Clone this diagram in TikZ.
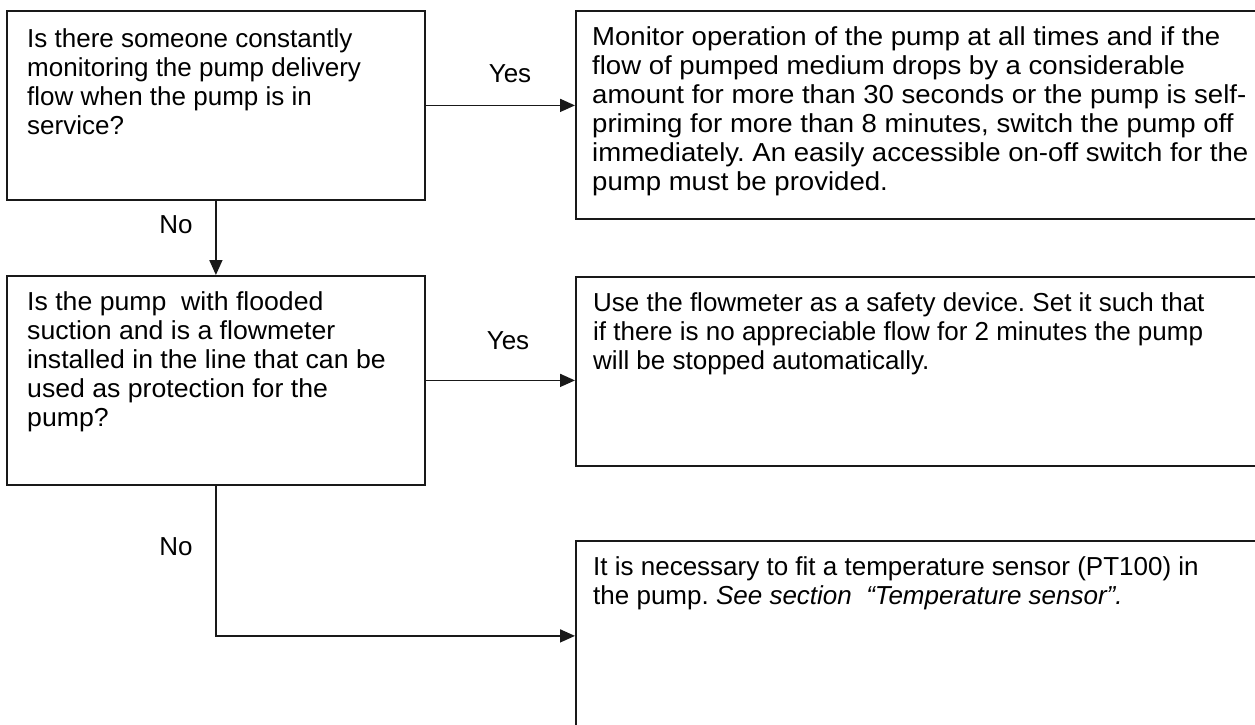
\documentclass[tikz,border=0pt]{standalone}
\usepackage{fontspec}
\setmainfont{Liberation Sans}
\newfontfamily\widefont[FakeStretch=1.06]{Liberation Sans}
\newfontfamily\semiwidefont[FakeStretch=1.025]{Liberation Sans}
\usetikzlibrary{arrows.meta,calc}
\tikzset{
  box/.style={draw=black!90, line width=1.8pt, rectangle, inner sep=0pt, anchor=north west},
  txt/.style={inner sep=0pt, anchor=base west, font=\fontsize{26pt}{29pt}\selectfont},
  lbl/.style={inner sep=0pt, font=\fontsize{26pt}{29pt}\selectfont},
  arr/.style={draw=black!90, line width=1.7pt, -{Triangle[length=15pt,width=13pt]}},
}
\newcommand{\tb}[1]{\parbox[t]{700pt}{\fontsize{26pt}{29pt}\selectfont\frenchspacing\raggedright #1}}
\begin{document}
\begin{tikzpicture}[x=1pt,y=-1pt]
\useasboundingbox (0,0) rectangle (1255,724);
\clip (0,0) rectangle (1255,724);
\fill[white] (0,0) rectangle (1255,724);

% boxes
\node[box, minimum width=418pt, minimum height=189pt] (q1) at (6,10) {};
\node[box, minimum width=690pt, minimum height=208pt] (a1) at (575,10) {};
\node[box, minimum width=418pt, minimum height=209pt] (q3) at (6,275) {};
\node[box, minimum width=690pt, minimum height=189pt] (a2) at (575,276) {};
\node[box, minimum width=690pt, minimum height=190pt] (a3) at (575,540) {};

% texts
\node[txt] (q1t) at ($(q1.north west)+(21,37)$) {\tb{Is there someone constantly\\monitoring the pump delivery\\flow when the pump is in\\service?}};
\node[txt] (a1t) at ($(a1.north west)+(17,35)$) {\tb{\widefont Monitor operation of the pump at all times and if the\\flow of pumped medium drops by a considerable\\amount for more than 30 seconds or the pump is self-\\priming for more than 8 minutes, switch the pump off\\immediately. An easily accessible on-off switch for the\\pump must be provided.}};
\node[txt] (q3t) at ($(q3.north west)+(21,35)$) {\tb{\semiwidefont Is the pump\ \ with flooded\\suction and is a flowmeter\\installed in the line that can be\\used as protection for the\\pump?}};
\node[txt] (a2t) at ($(a2.north west)+(18,35)$) {\tb{Use the flowmeter as a safety device. Set it such that\\if there is no appreciable flow for 2 minutes the pump\\will be stopped automatically.}};
\node[txt] (a3t) at ($(a3.north west)+(18,35)$) {\tb{It is necessary to fit a temperature sensor (PT100) in\\the pump. \textit{See section\ \ “Temperature sensor”.}}};

% connectors
\draw[arr] (q1.east) -- (q1.east -| a1.west);
\draw[arr] (q1.south) -- (q3.north);
\draw[arr] (q3.east) -- (q3.east -| a2.west);
\draw[arr] (q3.south) |- (a3.west);

% labels
\node[lbl] (yes1) at (510,74) {Yes};
\node[lbl] (no1) at (176,225) {No};
\node[lbl] (yes2) at (508,341) {Yes};
\node[lbl] (no2) at (176,547) {No};
\end{tikzpicture}
\end{document}
